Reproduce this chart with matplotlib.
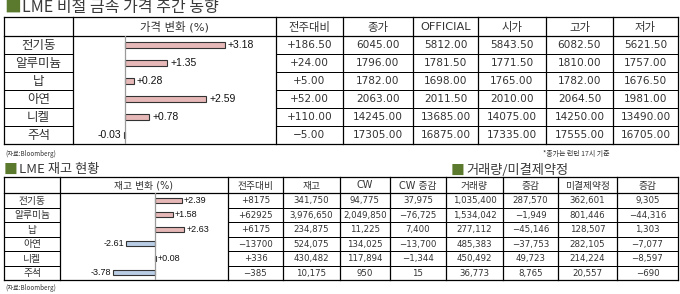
import matplotlib
matplotlib.use('Agg')
import matplotlib.pyplot as plt

plt.rcParams['font.family'] = ['DejaVu Sans', 'Noto Sans CJK KR']

# --- data ---
metals = ['전기동', '알루미늄', '납', '아연', '니켈', '주석']

price_chg = [3.18, 1.35, 0.28, 2.59, 0.78, -0.03]
price_cols = ['전주대비', '종가', 'OFFICIAL', '시가', '고가', '저가']
price_wow = ['+186.50', '+24.00', '+5.00', '+52.00', '+110.00', '−5.00']
close = ['6045.00', '1796.00', '1782.00', '2063.00', '14245.00', '17305.00']
official = ['5812.00', '1781.50', '1698.00', '2011.50', '13685.00', '16875.00']
open_px = ['5843.50', '1771.50', '1765.00', '2010.00', '14075.00', '17335.00']
high = ['6082.50', '1810.00', '1782.00', '2064.50', '14250.00', '17555.00']
low = ['5621.50', '1757.00', '1676.50', '1981.00', '13490.00', '16705.00']

stock_chg = [2.39, 1.58, 2.63, -2.61, 0.08, -3.78]
stock_cols = ['전주대비', '재고', 'CW', 'CW 증감', '거래량', '증감', '미결제약정', '증감']
stock_wow = ['+8175', '+62925', '+6175', '−13700', '+336', '−385']
stock = ['341,750', '3,976,650', '234,875', '524,075', '430,482', '10,175']
cw = ['94,775', '2,049,850', '11,225', '134,025', '117,894', '950']
cw_chg = ['37,975', '−76,725', '7,400', '−13,700', '−1,344', '15']
volume = ['1,035,400', '1,534,042', '277,112', '485,383', '450,492', '36,773']
vol_chg = ['287,570', '−1,949', '−45,146', '−37,753', '49,723', '8,765']
oi = ['362,601', '801,446', '128,507', '282,105', '214,224', '20,557']
oi_chg = ['9,305', '−44,316', '1,303', '−7,077', '−8,597', '−690']

W, H = 680, 294
fig = plt.figure(figsize=(W / 100, H / 100), dpi=100)
base = fig.add_axes([0, 0, 1, 1])
base.set_xlim(0, W)
base.set_ylim(H, 0)
base.axis('off')

txt_c = '#333333'
green = '#5B7A2E'
pink = '#E6B9B8'
blue = '#B9CDE5'


def title(x, y, s, size):
    base.text(x, y, '■', color=green, fontsize=size * 1.05, va='center', ha='left',
              family=['Noto Sans CJK KR'])
    base.text(x + size * 1.6, y, s, color='#3A3A3A', fontsize=size, va='center',
              ha='left', family=['Noto Sans CJK KR'])


def table(xs, top, hdr_bot, row_h, chart_col, headers, cols, hdr_size, lab_size, num_size):
    n = len(metals)
    bot = hdr_bot + row_h * n
    lw = 0.9
    # outer / header lines
    base.plot([xs[0], xs[-1]], [top, top], color='k', lw=lw)
    base.plot([xs[0], xs[-1]], [hdr_bot, hdr_bot], color='k', lw=lw)
    base.plot([xs[0], xs[-1]], [bot, bot], color='k', lw=lw)
    for x in xs:
        base.plot([x, x], [top, bot], color='k', lw=lw)
    # row lines except chart column
    for i in range(1, n):
        y = hdr_bot + row_h * i
        for j in range(len(xs) - 1):
            if j == chart_col:
                continue
            base.plot([xs[j], xs[j + 1]], [y, y], color='k', lw=lw * 0.8)
    # headers
    for j, h in enumerate(headers):
        if h:
            base.text((xs[j] + xs[j + 1]) / 2, (top + hdr_bot) / 2 + 0.5, h,
                      ha='center', va='center', fontsize=hdr_size, color=txt_c)
    for i, m in enumerate(metals):
        yc = hdr_bot + row_h * (i + 0.5) + 0.5
        base.text((xs[0] + xs[1]) / 2, yc, m, ha='center', va='center',
                  fontsize=lab_size, color=txt_c)
        for k, col in enumerate(cols):
            j = k + 2
            base.text((xs[j] + xs[j + 1]) / 2, yc, col[i], ha='center', va='center',
                      fontsize=num_size, color=txt_c)
    return bot


def bar_panel(x0, x1, y0, y1, zero_x, px_per_unit, values, size, off):
    ax = fig.add_axes([x0 / W, 1 - y1 / H, (x1 - x0) / W, (y1 - y0) / H])
    ax.set_xlim(-(zero_x - x0) / px_per_unit, (x1 - zero_x) / px_per_unit)
    ax.set_ylim(len(values) - 0.5, -0.5)
    ax.axis('off')
    ax.patch.set_alpha(0)
    ax.axvline(0, color='#9A9A9A', lw=0.9)
    cols = [pink if v >= 0 else blue for v in values]
    ax.barh(range(len(values)), values, height=0.32, color=cols,
            edgecolor='#333333', lw=0.8)
    d = off / px_per_unit
    for i, v in enumerate(values):
        lab = '%+.2f' % v
        if v >= 0:
            ax.text(v + d, i, lab, ha='left', va='center', fontsize=size,
                    family=['Liberation Sans'], color='#111111')
        else:
            ax.text(v - d, i, lab, ha='right', va='center', fontsize=size,
                    family=['Liberation Sans'], color='#111111')


# --- top section ---
title(4, 7.5, 'LME 비철 금속 가격 주간 동향', 11.5)
xs_top = [4, 73, 276, 343, 413, 478, 546, 613, 678]
bot1 = table(xs_top, 17, 36, 18, 1, [''] + ['가격 변화 (%)'] + price_cols,
             [price_wow, close, official, open_px, high, low], 8.2, 9, 7.6)
bar_panel(73, 276, 36, bot1, 125, 31.4, price_chg, 7.5, 3)

base.text(5, 154, '(자료:Bloomberg)', fontsize=4.5, color='#333333', va='center',
          family=['Noto Sans CJK KR'])
base.text(543, 154, '*종가는 런던 17시 기준', fontsize=5, color='#333333', va='center',
          family=['Noto Sans CJK KR'])

# --- bottom section ---
title(4, 170, 'LME 재고 현황', 9.5)
title(451, 171, '거래량/미결제약정', 9.5)
xs_bot = [4, 60, 228, 283, 340, 390, 446, 503, 558, 617, 678]
bot2 = table(xs_bot, 177, 193, 14.5, 1, [''] + ['재고 변화 (%)'] + stock_cols,
             [stock_wow, stock, cw, cw_chg, volume, vol_chg, oi, oi_chg], 7, 7, 6.2)
bar_panel(60, 228, 193, bot2, 155, 11.2, stock_chg, 6.5, 2)

base.text(5, 288, '(자료:Bloomberg)', fontsize=4.5, color='#333333', va='center',
          family=['Noto Sans CJK KR'])

fig.savefig('out.png', dpi=100)
